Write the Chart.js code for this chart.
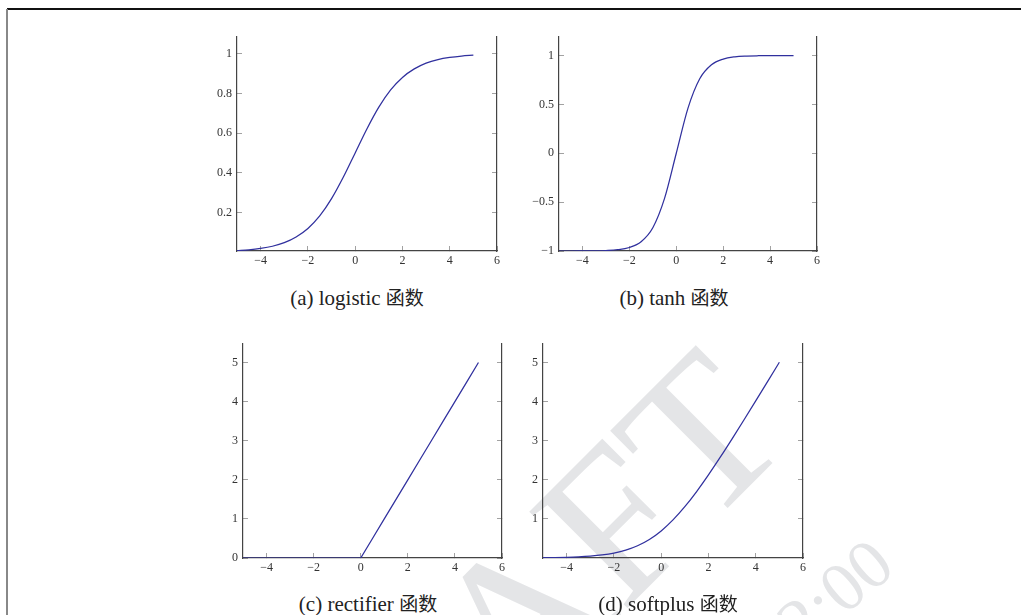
<!DOCTYPE html>
<html>
<head>
<meta charset="utf-8">
<script src="https://cdn.jsdelivr.net/npm/chart.js@4.4.1/dist/chart.umd.min.js"></script>
<style>
  html, body { margin: 0; padding: 0; background: #fff; }
  body { width: 1021px; height: 615px; position: relative; overflow: hidden; }
  .wm { position: absolute; color: #e4e5e7; font-family: "Liberation Serif", serif;
        white-space: nowrap; text-align: right; z-index: 0; }
  .frameTop { position: absolute; left: 7px; top: 8px; width: 1014px; height: 1.5px; background: #111; }
  .frameLeft { position: absolute; left: 6px; top: 9px; width: 2px; height: 606px; background: #888; }
  .panel { position: absolute; z-index: 1; }
  .cap { position: absolute; z-index: 1; font-family: "Liberation Serif", "Noto Sans CJK SC", serif;
         font-size: 21px; color: #222; white-space: nowrap; transform: translate(-50%, -50%); }
  .cap .zh { font-family: "Noto Sans CJK SC"; font-size: 19px; }
</style>
</head>
<body>
<div class="frameTop"></div>
<div class="frameLeft"></div>
<div class="wm" style="left:-136px;top:330px;width:900px;height:210px;line-height:210px;font-size:210px;transform-origin:836px 105px;transform:rotate(-45deg);">DRAFT</div>
<div class="wm" style="left:487px;top:530px;width:400px;height:70px;line-height:70px;font-size:70px;transform-origin:382px 35px;transform:rotate(-40deg);">2:00</div>

<div class="panel" style="left:187px;top:36px;width:320px;height:240px;"><canvas id="ca"></canvas></div>
<div class="panel" style="left:509px;top:36px;width:318px;height:240px;"><canvas id="cb"></canvas></div>
<div class="panel" style="left:193px;top:343px;width:319px;height:240px;"><canvas id="cc"></canvas></div>
<div class="panel" style="left:493px;top:343px;width:320px;height:240px;"><canvas id="cd"></canvas></div>

<div class="cap" style="left:357px;top:297px;">(a) logistic <span class="zh">函数</span></div>
<div class="cap" style="left:674px;top:297px;">(b) tanh <span class="zh">函数</span></div>
<div class="cap" style="left:368px;top:603px;">(c) rectifier <span class="zh">函数</span></div>
<div class="cap" style="left:668px;top:603px;">(d) softplus <span class="zh">函数</span></div>

<script>
const xValues = [-5, -4.5, -4, -3.5, -3, -2.5, -2, -1.5, -1, -0.5, 0, 0.5, 1, 1.5, 2, 2.5, 3, 3.5, 4, 4.5, 5];
const logisticValues = [0.007, 0.011, 0.018, 0.029, 0.047, 0.076, 0.119, 0.182, 0.269, 0.378, 0.5,
  0.622, 0.731, 0.818, 0.881, 0.924, 0.953, 0.971, 0.982, 0.989, 0.993];
const tanhValues = [-1.0, -1.0, -0.999, -0.998, -0.995, -0.987, -0.964, -0.905, -0.762, -0.462, 0,
  0.462, 0.762, 0.905, 0.964, 0.987, 0.995, 0.998, 0.999, 1.0, 1.0];
const rectifierValues = [0, 0, 0, 0, 0, 0, 0, 0, 0, 0, 0, 0.5, 1, 1.5, 2, 2.5, 3, 3.5, 4, 4.5, 5];
const softplusValues = [0.007, 0.011, 0.018, 0.03, 0.049, 0.079, 0.127, 0.201, 0.313, 0.474, 0.693,
  0.974, 1.313, 1.701, 2.127, 2.579, 3.049, 3.53, 4.018, 4.511, 5.007];

const xTicks = [-4, -2, 0, 2, 4, 6];
const xTickLabels = ["−4", "−2", "0", "2", "4", "6"];
const logisticTicks = [0.2, 0.4, 0.6, 0.8, 1];
const logisticTickLabels = ["0.2", "0.4", "0.6", "0.8", "1"];
const tanhTicks = [-1, -0.5, 0, 0.5, 1];
const tanhTickLabels = ["−1", "−0.5", "0", "0.5", "1"];
const rectifierTicks = [0, 1, 2, 3, 4, 5];
const rectifierTickLabels = ["0", "1", "2", "3", "4", "5"];
const softplusTicks = [1, 2, 3, 4, 5];
const softplusTickLabels = ["1", "2", "3", "4", "5"];

const tickFont = { family: "Liberation Serif", size: 12 };
const axisColor = "#444";
const tickColor = "#8a8a8a";

function fixedTicks(vals) {
  return (scale) => { scale.ticks = vals.map((v) => ({ value: v })); };
}

// fixed axis sizes, no extra room for edge labels
function fitTo(w, h) {
  return (s) => {
    if (w != null) s.width = w;
    if (h != null) s.height = h;
    s.paddingTop = 0; s.paddingBottom = 0; s.paddingLeft = 0; s.paddingRight = 0;
  };
}

function makePanel(id, ys, yTicks, yLabels, yMin, yMax, straight) {
  const ctx = document.getElementById(id).getContext("2d");
  const grid = { drawOnChartArea: false, tickLength: -5, color: tickColor, lineWidth: 0.8 };
  const border = { color: axisColor, width: 1.2 };
  new Chart(ctx, {
    type: "line",
    data: {
      datasets: [{
        data: xValues.map((x, i) => ({ x: x, y: ys[i] })),
        borderColor: "#30309e",
        borderWidth: 1.25,
        pointRadius: 0,
        tension: 0,
        cubicInterpolationMode: straight ? "default" : "monotone",
        fill: false,
      }],
    },
    options: {
      responsive: true,
      maintainAspectRatio: false,
      animation: false,
      layout: { padding: 0 },
      plugins: { legend: { display: false }, tooltip: { enabled: false } },
      scales: {
        x: {
          type: "linear", position: "bottom", min: -5, max: 6,
          afterBuildTicks: fixedTicks(xTicks),
          afterFit: fitTo(null, 25),
          grid: grid, border: border,
          ticks: { font: tickFont, color: "#333", padding: 8, maxRotation: 0,
                   callback: (v, i) => xTickLabels[i] },
        },
        y: {
          type: "linear", position: "left", min: yMin, max: yMax,
          afterBuildTicks: fixedTicks(yTicks),
          afterFit: fitTo(50, null),
          grid: grid, border: border,
          ticks: { font: tickFont, color: "#333", padding: 10,
                   callback: (v, i) => yLabels[i] },
        },
        yRight: {
          type: "linear", position: "right", min: yMin, max: yMax,
          afterBuildTicks: fixedTicks(yTicks),
          afterFit: fitTo(10, null),
          grid: grid, border: border,
          ticks: { display: false },
        },
      },
    },
  });
}

makePanel("ca", logisticValues, logisticTicks, logisticTickLabels, 0.005, 1.09, false);
makePanel("cb", tanhValues, tanhTicks, tanhTickLabels, -1, 1.2, false);
makePanel("cc", rectifierValues, rectifierTicks, rectifierTickLabels, 0, 5.5, true);
makePanel("cd", softplusValues, softplusTicks, softplusTickLabels, 0, 5.5, false);
</script>
</body>
</html>
